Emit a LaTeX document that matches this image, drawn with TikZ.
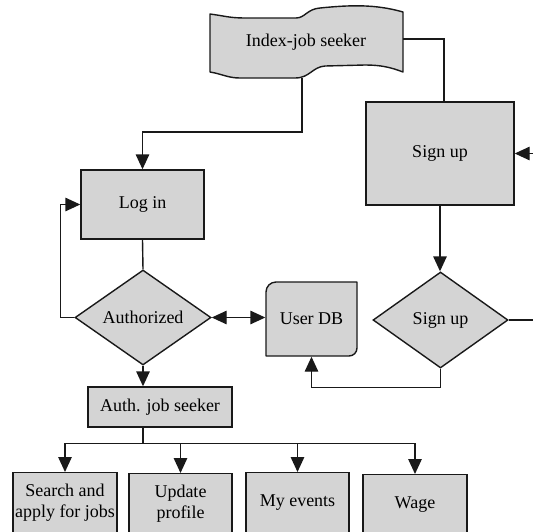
\documentclass[tikz,border=0pt]{standalone}
\usepackage{fontspec}
\setmainfont{Liberation Serif}
\usetikzlibrary{arrows.meta,shapes.geometric,calc}
\definecolor{boxgray}{RGB}{212,212,212}
\definecolor{ink}{RGB}{25,25,25}
\begin{document}
\begin{tikzpicture}[x=1pt,y=-1pt,
  font=\fontsize{18}{21.5}\selectfont,
  line width=1.4pt,
  >={Triangle[length=15pt,width=13.5pt]},
  box/.style={draw=ink, fill=boxgray, rectangle, inner sep=0pt, align=center},
  dia/.style={draw=ink, fill=boxgray, diamond, inner sep=0pt},
  conn/.style={draw=ink, line width=1.4pt},
  shapeline/.style={draw=ink, fill=boxgray, line width=1.4pt, line join=round}]
\useasboundingbox (0,0) rectangle (533,531);
\clip (0,0) rectangle (533,531);

% tape: Index-job seeker
\path[shapeline] (210,14) .. controls (225,16) and (230,18) .. (245,18) -- (296,18)
  .. controls (305,18) and (307,9) .. (320,8) .. controls (350,5) and (375,4) .. (403,12)
  -- (403,72) .. controls (390,67) and (380,65) .. (365,65) -- (325,66)
  .. controls (312,67) and (310,78) .. (295,78) -- (240,78)
  .. controls (228,78) and (222,74) .. (210,72) -- cycle;
\node (idx) at (306,42) {Index-job seeker};
\coordinate (idxR) at (403,39);
\coordinate (idxB) at (302,78);

% User DB (rounded top-left and bottom-right)
\path[shapeline] (266,356) -- (266,292) .. controls (266,286.5) and (270.5,282) .. (276,282)
  -- (357,282) -- (357,348) .. controls (357,352.4) and (353.4,356) .. (349,356) -- cycle;
\node[minimum width=91pt, minimum height=74pt, inner sep=0pt] (udb) at (311.5,319) {User DB};

\node[box, minimum width=123pt, minimum height=69pt] (login) at (142.5,204.5) {Log in};
\node[box, minimum width=148pt, minimum height=103pt] (signup) at (440,153.5) {Sign up};
\node[dia, minimum width=136pt, minimum height=95pt] (auth) at (143,317.5) {Authorized};
\node[dia, minimum width=135pt, minimum height=96pt] (sdia) at (440.5,320) {Sign up};
\node[box, minimum width=144pt, minimum height=40pt] (ajs) at (160,407) {Auth. job seeker};

\node[box, anchor=north, minimum width=104pt, minimum height=60pt] (b1) at (65,472) {Search and\\apply for jobs};
\node[box, anchor=north, minimum width=103pt, minimum height=60pt] (b2) at (180.5,473) {Update\\profile};
\node[box, anchor=north, minimum width=103pt, minimum height=60pt] (b3) at (297.5,472) {My events};
\node[box, anchor=north, minimum width=104pt, minimum height=60pt] (b4) at (415,474) {Wage};

\coordinate (suIn) at (545,153.5);
\coordinate (sdiaOut) at (545,320);

% connectors
\draw[conn,->] (idxB) -- ++(0,54) -| (login.north);
\draw[conn] (idxR) -| ($(signup.north)+(4,0)$);
\draw[conn,->] (suIn) -- (signup.east);
\draw[conn,->] (signup.south) -- (signup.south |- sdia.north);
\draw[conn] (sdia.east) -- (sdiaOut);
\draw[conn,->] (sdia.south) -- ++(0,19) -| (udb.south);
\draw[conn] (login.south) -- (auth.north);
\draw[conn,->] (auth.west) -- ++(-14,0) |- (login.west);
\draw[conn,<->] (auth.east) -- (auth.east -| udb.west);
\draw[conn,->] (auth.south) -- (auth.south |- ajs.north);
\coordinate (bj) at ($(auth.south |- ajs.south)+(0,16)$);
\draw[conn] (auth.south |- ajs.south) -- (bj);
\draw[conn,->] (bj) -| (b1.north);
\draw[conn,->] (bj) -| (b2.north);
\draw[conn,->] (bj) -| (b3.north);
\draw[conn,->] (bj) -| (b4.north);
\end{tikzpicture}
\end{document}
